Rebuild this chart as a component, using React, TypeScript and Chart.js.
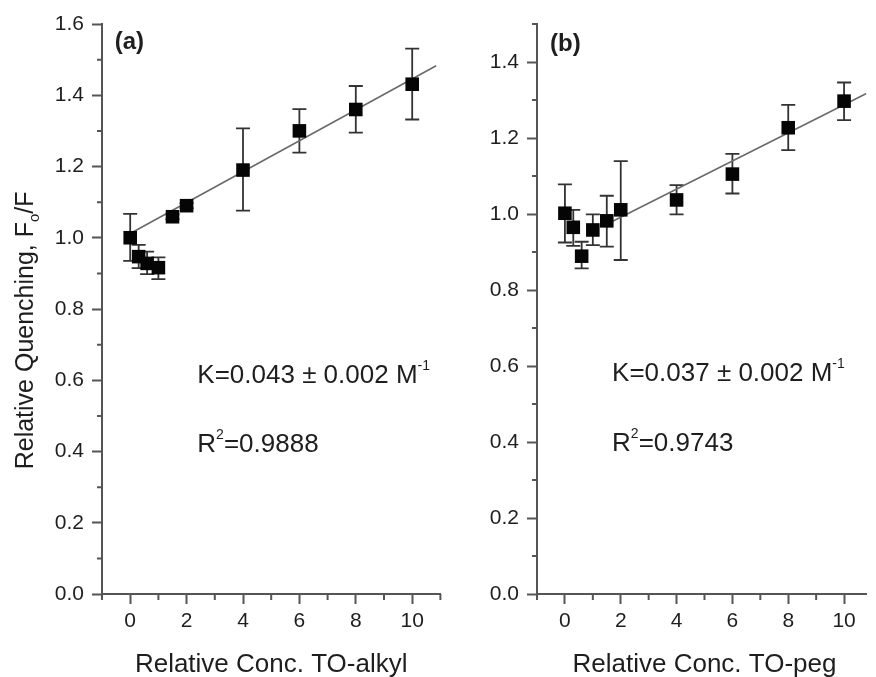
import React, { useEffect, useRef } from "react";
import { Chart, registerables } from "chart.js";
Chart.register(...registerables);

const FONT = '"Liberation Sans", Arial, Helvetica, sans-serif';

// Panel (a): TO-alkyl
const concA = [0, 0.3, 0.6, 1, 1.5, 2, 4, 6, 8, 10];
const quenchA = [1.0, 0.947, 0.928, 0.916, 1.059, 1.09, 1.19, 1.3, 1.36, 1.431];
const errHiA = [1.067, 0.98, 0.961, 0.945, 1.066, 1.097, 1.307, 1.361, 1.426, 1.531];
const errLoA = [0.935, 0.915, 0.898, 0.884, 1.052, 1.083, 1.076, 1.239, 1.295, 1.332];
const fitXA = [0, 10.85];
const fitYA = [1.012, 1.483];

// Panel (b): TO-peg
const concB = [0, 0.3, 0.6, 1, 1.5, 2, 4, 6, 8, 10];
const quenchB = [1.002, 0.965, 0.889, 0.958, 0.982, 1.011, 1.037, 1.105, 1.227, 1.297];
const errHiB = [1.078, 1.011, 0.927, 0.999, 1.048, 1.139, 1.076, 1.158, 1.287, 1.346];
const errLoB = [0.925, 0.916, 0.857, 0.918, 0.914, 0.879, 0.999, 1.054, 1.168, 1.247];
const fitXB = [1.5, 10.8];
const fitYB = [0.973, 1.317];

const xTicks = [0, 2, 4, 6, 8, 10];
const xMinorTicks = [-1, 1, 3, 5, 7, 9, 11];
const yTicksA = [0, 0.2, 0.4, 0.6, 0.8, 1.0, 1.2, 1.4, 1.6];
const yMinorA = [0.1, 0.3, 0.5, 0.7, 0.9, 1.1, 1.3, 1.5];
const yTicksB = [0, 0.2, 0.4, 0.6, 0.8, 1.0, 1.2, 1.4];
const yMinorB = [0.1, 0.3, 0.5, 0.7, 0.9, 1.1, 1.3, 1.5];

type Part = { t: string; size: number; dy?: number; bold?: boolean };

function setFont(ctx: CanvasRenderingContext2D, p: Part) {
  ctx.font = `${p.bold ? "bold " : ""}${p.size}px ${FONT}`;
}
function partsWidth(ctx: CanvasRenderingContext2D, parts: Part[]) {
  let w = 0;
  for (const p of parts) {
    setFont(ctx, p);
    w += ctx.measureText(p.t).width;
  }
  return w;
}
function drawParts(ctx: CanvasRenderingContext2D, x: number, y: number, parts: Part[]) {
  let cx = x;
  for (const p of parts) {
    setFont(ctx, p);
    ctx.fillText(p.t, cx, y + (p.dy || 0));
    cx += ctx.measureText(p.t).width;
  }
}

interface Panel {
  xs: number[];
  ys: number[];
  hi: number[];
  lo: number[];
  fitX: number[];
  fitY: number[];
  xMax: number;
  yMax: number;
  yTicks: number[];
  yMinor: number[];
  tag: string;
  tagPos: [number, number];
  kParts: Part[];
  kPos: [number, number];
  rParts: Part[];
  rPos: [number, number];
  xTitle: string;
  yTitle: boolean;
  yAxisWidth: number;
  padRight: number;
}

const panelA: Panel = {
  xs: concA, ys: quenchA, hi: errHiA, lo: errLoA, fitX: fitXA, fitY: fitYA,
  xMax: 11, yMax: 1.6, yTicks: yTicksA, yMinor: yMinorA,
  tag: "(a)", tagPos: [-0.55, 1.531],
  kParts: [{ t: "K=0.043 \u00b1 0.002 M", size: 26 }, { t: "-1", size: 14, dy: -13 }],
  kPos: [2.38, 0.592],
  rParts: [{ t: "R", size: 26 }, { t: "2", size: 14, dy: -13 }, { t: "=0.9888", size: 26 }],
  rPos: [2.38, 0.399],
  xTitle: "Relative Conc. TO-alkyl", yTitle: true, yAxisWidth: 102, padRight: 3,
};

const panelB: Panel = {
  xs: concB, ys: quenchB, hi: errHiB, lo: errLoB, fitX: fitXB, fitY: fitYB,
  xMax: 10.8, yMax: 1.5, yTicks: yTicksB, yMinor: yMinorB,
  tag: "(b)", tagPos: [-0.53, 1.43],
  kParts: [{ t: "K=0.037 \u00b1 0.002 M", size: 26 }, { t: "-1", size: 14, dy: -13 }],
  kPos: [1.69, 0.561],
  rParts: [{ t: "R", size: 26 }, { t: "2", size: 14, dy: -13 }, { t: "=0.9743", size: 26 }],
  rPos: [1.69, 0.377],
  xTitle: "Relative Conc. TO-peg", yTitle: false, yAxisWidth: 87, padRight: 0,
};

const AXIS = "#555555";
const TEXT = "#1e1e1e";

function makeChart(canvas: HTMLCanvasElement, p: Panel) {
  const decor = {
    id: "decor",
    beforeDatasetsDraw(chart: any) {
      const ctx = chart.ctx as CanvasRenderingContext2D;
      const xs = chart.scales.x, ys = chart.scales.y;
      ctx.save();
      ctx.strokeStyle = "#333";
      ctx.lineWidth = 1.8;
      const cap = 7;
      p.xs.forEach((xv, i) => {
        const px = xs.getPixelForValue(xv);
        const top = ys.getPixelForValue(p.hi[i]);
        const bot = ys.getPixelForValue(p.lo[i]);
        ctx.beginPath();
        ctx.moveTo(px, top); ctx.lineTo(px, bot);
        ctx.moveTo(px - cap, top); ctx.lineTo(px + cap, top);
        ctx.moveTo(px - cap, bot); ctx.lineTo(px + cap, bot);
        ctx.stroke();
      });
      ctx.restore();
    },
    afterDraw(chart: any) {
      const ctx = chart.ctx as CanvasRenderingContext2D;
      const xs = chart.scales.x, ys = chart.scales.y;
      const area = chart.chartArea;
      ctx.save();
      // minor ticks
      ctx.strokeStyle = AXIS;
      ctx.lineWidth = 2;
      ctx.beginPath();
      for (const v of xMinorTicks) {
        if (v > p.xMax) continue;
        const px = xs.getPixelForValue(v);
        ctx.moveTo(px, area.bottom);
        ctx.lineTo(px, area.bottom + 6);
      }
      for (const v of p.yMinor) {
        const py = ys.getPixelForValue(v);
        ctx.moveTo(area.left, py);
        ctx.lineTo(area.left - 5, py);
      }
      ctx.stroke();
      // texts
      ctx.fillStyle = TEXT;
      ctx.textBaseline = "alphabetic";
      ctx.textAlign = "left";
      drawParts(ctx, xs.getPixelForValue(p.tagPos[0]), ys.getPixelForValue(p.tagPos[1]), [
        { t: p.tag, size: 24, bold: true },
      ]);
      drawParts(ctx, xs.getPixelForValue(p.kPos[0]), ys.getPixelForValue(p.kPos[1]), p.kParts);
      drawParts(ctx, xs.getPixelForValue(p.rPos[0]), ys.getPixelForValue(p.rPos[1]), p.rParts);
      // x title
      const xt: Part[] = [{ t: p.xTitle, size: 26 }];
      const wx = partsWidth(ctx, xt);
      drawParts(ctx, xs.getPixelForValue(5) - wx / 2, chart.height - 5.5, xt);
      // y title
      if (p.yTitle) {
        const yt: Part[] = [
          { t: "Relative Quenching, F", size: 25 },
          { t: "o", size: 15, dy: 6 },
          { t: "/F", size: 25 },
        ];
        const wy = partsWidth(ctx, yt);
        ctx.translate(33, ys.getPixelForValue(0.74));
        ctx.rotate(-Math.PI / 2);
        drawParts(ctx, -wy / 2, 0, yt);
      }
      ctx.restore();
    },
  };

  const tickFont = { family: FONT, size: 21 };
  return new Chart(canvas, {
    type: "scatter",
    data: {
      datasets: [
        {
          type: "line",
          data: p.fitX.map((x, i) => ({ x, y: p.fitY[i] })),
          borderColor: "#6a6a6a",
          borderWidth: 1.6,
          pointRadius: 0,
          fill: false,
          order: 2,
        } as any,
        {
          type: "scatter",
          data: p.xs.map((x, i) => ({ x, y: p.ys[i] })),
          pointStyle: "rect",
          pointRadius: 9.6,
          backgroundColor: "#050505",
          borderWidth: 0,
          order: 1,
          clip: false,
        } as any,
      ],
    },
    options: {
      responsive: false,
      maintainAspectRatio: false,
      animation: false,
      layout: { padding: { top: 24, left: 0, right: p.padRight, bottom: 0 } },
      plugins: { legend: { display: false }, tooltip: { enabled: false } },
      scales: {
        x: {
          type: "linear",
          min: -1,
          max: p.xMax,
          afterBuildTicks: (s: any) => {
            s.ticks = xTicks.map((v) => ({ value: v }));
          },
          afterFit: (s: any) => {
            s.height = 83;
          },
          ticks: { font: tickFont, color: TEXT, padding: 5, maxRotation: 0, autoSkip: false, callback: (v: any) => String(v) },
          grid: { display: true, drawOnChartArea: false, drawTicks: true, tickLength: 10, tickColor: AXIS, tickWidth: 2 },
          border: { display: true, color: AXIS, width: 2 },
        },
        y: {
          type: "linear",
          min: 0,
          max: p.yMax,
          afterBuildTicks: (s: any) => {
            s.ticks = p.yTicks.map((v) => ({ value: v }));
          },
          afterFit: (s: any) => {
            s.width = p.yAxisWidth;
          },
          ticks: { font: tickFont, color: TEXT, padding: 8, autoSkip: false, callback: (v: any) => Number(v).toFixed(1) },
          grid: { display: true, drawOnChartArea: false, drawTicks: true, tickLength: 10, tickColor: AXIS, tickWidth: 2 },
          border: { display: true, color: AXIS, width: 2 },
        },
      },
    } as any,
    plugins: [decor],
  });
}

function PanelCanvas({ panel, left, width }: { panel: Panel; left: number; width: number }) {
  const ref = useRef<HTMLCanvasElement | null>(null);
  useEffect(() => {
    if (!ref.current) return;
    const c = makeChart(ref.current, panel);
    return () => c.destroy();
  }, [panel]);
  return (
    <canvas
      ref={ref}
      width={width}
      height={677}
      style={{ position: "absolute", left, top: 0, width, height: 677 }}
    />
  );
}

export default function App() {
  return (
    <div
      style={{
        position: "fixed",
        left: 0,
        top: 0,
        width: 876,
        height: 677,
        background: "#ffffff",
        overflow: "hidden",
      }}
    >
      <PanelCanvas panel={panelA} left={0} width={450} />
      <PanelCanvas panel={panelB} left={450} width={426} />
    </div>
  );
}
